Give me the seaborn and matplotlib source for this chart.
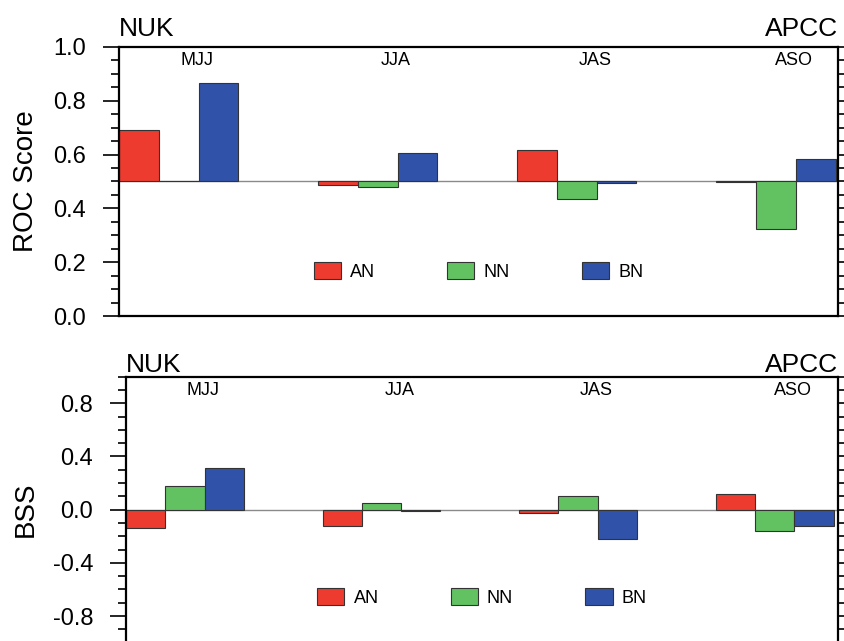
import numpy as np
import pandas as pd
import matplotlib
matplotlib.use("Agg")
import matplotlib.pyplot as plt
from matplotlib.patches import Patch
from matplotlib.ticker import MultipleLocator, FormatStrFormatter
import seaborn as sns

# Seasons, forecast categories and scores
seasons = ["MJJ", "JJA", "JAS", "ASO"]
categories = ["AN", "NN", "BN"]
roc_an = [0.69, 0.487, 0.617, 0.498]
roc_nn = [0.50, 0.481, 0.435, 0.322]
roc_bn = [0.865, 0.605, 0.496, 0.582]
bss_an = [-0.135, -0.123, -0.025, 0.12]
bss_nn = [0.175, 0.052, 0.10, -0.16]
bss_bn = [0.31, -0.013, -0.22, -0.125]

colors = ["#EE3B30", "#62C262", "#3052A8"]
ROC_BASE = 0.5
EDGE = "#333333"


def long_form(an, nn, bn):
    rows = []
    for cat, vals in zip(categories, [an, nn, bn]):
        for s, v in zip(seasons, vals):
            rows.append({"season": s, "cat": cat, "value": v})
    return pd.DataFrame(rows)


roc_df = long_form(roc_an, roc_nn, roc_bn)
roc_df["dev"] = roc_df["value"] - ROC_BASE
bss_df = long_form(bss_an, bss_nn, bss_bn)

sns.set_style("ticks")
plt.rcParams["font.family"] = ["Liberation Sans", "DejaVu Sans"]
plt.rcParams["axes.unicode_minus"] = False
for key in ("text.color", "axes.labelcolor", "xtick.color", "ytick.color",
            "axes.edgecolor"):
    plt.rcParams[key] = "black"

fig = plt.figure(figsize=(8.44, 6.41), dpi=100)
ax1 = fig.add_axes([0.141, 0.507, 0.852, 0.4197])
ax2 = fig.add_axes([0.1493, -0.0025, 0.8437, 0.4148])

bar_kw = dict(palette=colors, width=0.6, dodge=True, edgecolor=EDGE,
              linewidth=0.8, saturation=1, legend=False)

# ROC bars rise or fall from the 0.5 no-skill line
sns.barplot(data=roc_df, x="season", y="dev", hue="cat", ax=ax1,
            bottom=ROC_BASE, **bar_kw)
sns.barplot(data=bss_df, x="season", y="value", hue="cat", ax=ax2, **bar_kw)


def style_axes(ax, base, ylim, major, minor, fmt, xmax, ylabel, lab_x,
               leg_y, title_pad):
    ax.axhline(base, color="#8a8a8a", lw=1.0, zorder=0.5)
    ax.set_xlim(-0.3, xmax)
    ax.set_ylim(*ylim)
    ax.yaxis.set_major_locator(MultipleLocator(major))
    ax.yaxis.set_minor_locator(MultipleLocator(minor))
    ax.yaxis.set_major_formatter(FormatStrFormatter(fmt))
    ax.tick_params(axis="x", which="both", bottom=False, top=False,
                   labelbottom=False)
    ax.tick_params(axis="y", which="both", direction="out", left=True,
                   right=True, labelright=False, width=1.2, colors="black",
                   labelsize=17, pad=12)
    ax.tick_params(axis="y", which="major", length=11.5)
    ax.tick_params(axis="y", which="minor", length=5.8)
    for sp in ax.spines.values():
        sp.set_visible(True)
        sp.set_linewidth(1.6)
        sp.set_color("black")
    ax.set_xlabel("")
    ax.set_ylabel(ylabel, fontsize=20, color="black")
    ax.yaxis.label.set_va("center")
    ax.yaxis.set_label_coords(lab_x, 0.5)
    for i, s in enumerate(seasons):
        ax.text(i + 0.092, 0.95, s, transform=ax.get_xaxis_transform(),
                ha="center", va="center", fontsize=13, color="black")
    ax.set_title("NUK", loc="left", fontsize=19, pad=title_pad,
                 color="black")
    ax.set_title("APCC", loc="right", fontsize=19, pad=title_pad,
                 color="black")
    handles = [Patch(facecolor=c, edgecolor=EDGE, linewidth=0.8)
               for c in colors]
    leg = ax.legend(handles, categories, ncol=3, loc="center",
                    bbox_to_anchor=(0.5, leg_y), frameon=False, fontsize=13,
                    handlelength=1.5, handleheight=1.05, handletextpad=0.5,
                    columnspacing=4.0)
    for t in leg.get_texts():
        t.set_color("black")


style_axes(ax1, ROC_BASE, (0.0, 1.0), 0.2, 0.05, "%.1f", 3.313,
           "ROC Score", -0.13, 0.165, 8)
style_axes(ax2, 0.0, (-1.0, 1.0), 0.4, 0.1, "%.1f", 3.323,
           "BSS", -0.141, 0.169, -1.5)

fig.savefig("out.png", dpi=100)
